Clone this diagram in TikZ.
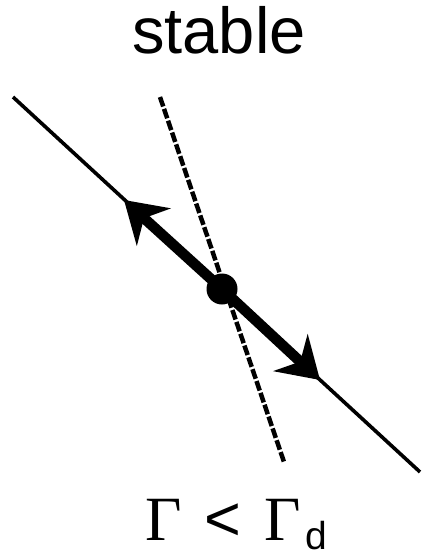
\documentclass[tikz,border=0pt]{standalone}
\usepackage{fontspec}
\setmainfont{Liberation Sans}
\newfontfamily\serifgamma{Liberation Serif}
\usetikzlibrary{arrows.meta}
\begin{document}
\begin{tikzpicture}[x=1pt,y=-1pt,
  thinline/.style={line width=3.6pt},
  dashline/.style={line width=4.5pt,dash pattern=on 10pt off 2.5pt},
  thickarrow/.style={line width=10.5pt,-{Stealth[length=40pt,width=50pt,inset=13pt]}},
  lbl/.style={inner sep=0pt,anchor=base}]
\useasboundingbox (0,0) rectangle (423,556);
\coordinate (a) at (13,97);
\coordinate (b) at (420,472);
\coordinate (c) at (160,97);
\coordinate (d) at (284,462);
\coordinate (t1) at (124,200);
\coordinate (t2) at (320,380);
\draw[thinline] (a) -- (b);
\draw[dashline] (c) -- (d);
\node[circle,fill=black,inner sep=0pt,minimum size=31pt] (dot) at (222,289) {};
\draw[thickarrow] (dot.center) -- (t1);
\draw[thickarrow] (dot.center) -- (t2);
\node[lbl,font=\fontsize{65}{70}\selectfont] (title) at (219,54) {stable};
\node[lbl,font=\fontsize{63}{70}\selectfont] (g1) at (164,540) {\serifgamma Γ};
\node[lbl,font=\fontsize{63}{70}\selectfont] (lt) at (223,540) {<};
\node[lbl,font=\fontsize{63}{70}\selectfont] (g2) at (283,540) {\serifgamma Γ};
\node[lbl,font=\fontsize{39}{42}\selectfont] (sub) at (316,549) {d};
\end{tikzpicture}
\end{document}
